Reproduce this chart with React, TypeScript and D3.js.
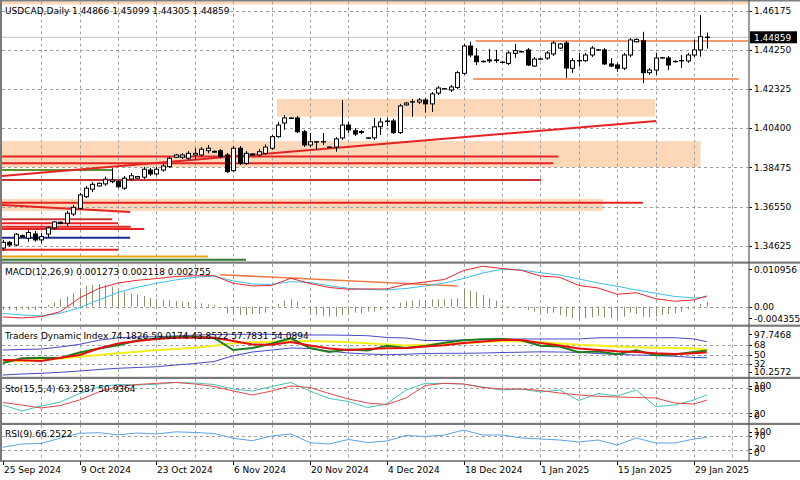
import React from "react";
import * as d3 from "d3";

// ---------- DATA ----------
const opens = [1.3451,1.3479,1.3466,1.3512,1.3499,1.352,1.3491,1.352,1.355,1.3578,1.3573,1.3618,1.3646,1.3703,1.374,1.3756,1.3766,1.3777,1.3777,1.3745,1.379,1.3794,1.3799,1.3834,1.3815,1.3834,1.3851,1.3897,1.3897,1.3892,1.3908,1.3908,1.3929,1.3926,1.3929,1.3908,1.3831,1.3941,1.3867,1.3908,1.3908,1.3916,1.3941,1.3998,1.4065,1.409,1.409,1.4022,1.3957,1.3973,1.3973,1.3947,1.3947,1.3992,1.4055,1.4027,1.4023,1.3992,1.3992,1.4047,1.4072,1.4075,1.4018,1.4154,1.4168,1.4168,1.4178,1.4159,1.4212,1.4232,1.4227,1.424,1.4309,1.4443,1.4394,1.4366,1.437,1.4372,1.4362,1.4358,1.4407,1.4415,1.4424,1.4345,1.4378,1.4384,1.4404,1.4433,1.4458,1.4334,1.4371,1.4371,1.4399,1.4424,1.4424,1.4355,1.435,1.4334,1.4399,1.4464,1.4469,1.4312,1.4325,1.4384,1.4384,1.4366,1.437,1.437,1.4399,1.4424,1.44866];
const highs = [1.3491,1.3486,1.3525,1.3518,1.354,1.3535,1.3525,1.3556,1.3584,1.3581,1.3633,1.3662,1.3721,1.3756,1.3775,1.3773,1.3802,1.3843,1.3785,1.3805,1.382,1.3805,1.3849,1.3844,1.3849,1.3864,1.3903,1.3913,1.3916,1.3927,1.3941,1.3947,1.3957,1.393,1.3937,1.3918,1.3952,1.3952,1.3927,1.3916,1.3937,1.396,1.4006,1.407,1.4104,1.4092,1.41,1.4031,1.4016,1.3976,1.4016,1.395,1.3996,1.4178,1.4071,1.404,1.403,1.3995,1.409,1.409,1.409,1.4085,1.4159,1.4168,1.4183,1.4188,1.4188,1.4217,1.4247,1.4237,1.4252,1.432,1.4453,1.4464,1.4433,1.4372,1.4428,1.4424,1.437,1.4419,1.4453,1.442,1.4433,1.4389,1.4384,1.4419,1.4468,1.4458,1.4468,1.4384,1.4409,1.4409,1.4443,1.4428,1.4433,1.4384,1.436,1.4409,1.4482,1.448,1.4513,1.4335,1.4409,1.439,1.4394,1.4372,1.4399,1.4409,1.4473,1.4595,1.45099];
const lows = [1.3437,1.3458,1.3461,1.3504,1.3482,1.3482,1.3474,1.35,1.354,1.3568,1.3559,1.3608,1.3638,1.3697,1.3726,1.3753,1.3756,1.3769,1.3746,1.3736,1.378,1.3792,1.379,1.3806,1.3806,1.3826,1.3844,1.3893,1.3889,1.3884,1.3884,1.3898,1.3916,1.392,1.3893,1.382,1.3825,1.3859,1.3859,1.3905,1.3898,1.3908,1.3933,1.3992,1.4031,1.4085,1.4016,1.3947,1.3947,1.3933,1.3957,1.3943,1.3924,1.3982,1.4016,1.4001,1.401,1.3987,1.3982,1.4006,1.405,1.4011,1.4011,1.415,1.4096,1.4159,1.4116,1.4119,1.4203,1.423,1.4217,1.4232,1.4301,1.4389,1.435,1.4362,1.436,1.436,1.4358,1.435,1.4384,1.4412,1.4345,1.434,1.4374,1.4375,1.4394,1.4428,1.4286,1.4311,1.4342,1.4365,1.4389,1.442,1.435,1.434,1.4317,1.4325,1.4389,1.446,1.426,1.4301,1.4301,1.438,1.4325,1.4362,1.4335,1.436,1.4389,1.4391,1.44305];
const closes = [1.3479,1.3466,1.3519,1.3508,1.3527,1.3491,1.3507,1.355,1.3579,1.3572,1.3622,1.3651,1.3712,1.3745,1.3764,1.3769,1.3789,1.3785,1.3752,1.3794,1.3806,1.3802,1.3838,1.3815,1.3838,1.3854,1.3892,1.3908,1.3908,1.3916,1.3916,1.3936,1.3941,1.3922,1.39,1.3826,1.3941,1.3867,1.3916,1.3913,1.3924,1.3947,1.3998,1.4055,1.409,1.4087,1.4022,1.3957,1.3973,1.3972,1.3974,1.3945,1.3987,1.4055,1.4031,1.4011,1.4019,1.399,1.4046,1.407,1.4075,1.4018,1.4149,1.4163,1.417,1.4178,1.4159,1.4208,1.4237,1.4234,1.4242,1.4312,1.4443,1.4399,1.4366,1.4368,1.4375,1.4375,1.4364,1.4409,1.442,1.4416,1.435,1.4379,1.438,1.4409,1.4458,1.4453,1.4335,1.4371,1.4372,1.4399,1.4433,1.4425,1.4355,1.4345,1.4334,1.4399,1.4473,1.4476,1.4312,1.4325,1.4384,1.4386,1.435,1.4368,1.4372,1.4399,1.4424,1.4489,1.44859];

const dateTickIdx = [0, 12, 24, 36, 48, 60, 72, 84, 96, 108];
const dateTickLabels = ["25 Sep 2024","9 Oct 2024","23 Oct 2024","6 Nov 2024","20 Nov 2024","4 Dec 2024","18 Dec 2024","1 Jan 2025","15 Jan 2025","29 Jan 2025"];
const priceTicks = [1.46175, 1.4425, 1.42325, 1.404, 1.38475, 1.3655, 1.34625];
const priceTickLabels = ["1.46175","1.44250","1.42325","1.40400","1.38475","1.36550","1.34625"];
const lastPrice = 1.44859;

// indicator samples (bar index)
const indIdx = [0,3,6,9,12,15,18,21,24,27,30,33,36,39,42,45,48,51,54,57,60,63,66,69,72,75,78,81,84,87,90,93,96,99,102,105,108,110];

const macdHist = [-0.00089,-0.00089,-0.00106,-0.00071,-0.00089,-0.00089,-0.00044,0.00044,0.00106,0.00195,0.00266,0.00355,0.00444,0.0055,0.00577,0.00603,0.00577,0.00532,0.00461,0.00399,0.00355,0.00319,0.00284,0.00231,0.00204,0.00186,0.00169,0.00151,0.00133,0.00124,0.00106,0.00089,0.00062,0.00044,0.00005,-0.00177,-0.00177,-0.00222,-0.00222,-0.00195,-0.00195,-0.0016,-0.00071,0.00071,0.0016,0.00195,0.00133,-0.00044,-0.0016,-0.00222,-0.00248,-0.00266,-0.00266,-0.00222,-0.00177,-0.0016,-0.00177,-0.00133,-0.00133,-0.00089,-0.00071,-0.00044,0.00106,0.00133,0.0016,0.00177,0.00177,0.00195,0.00195,0.00195,0.00204,0.00222,0.00461,0.00426,0.0039,0.0031,0.00222,0.0016,0.00044,0.00018,0.00005,-0.00018,-0.00089,-0.00133,-0.0016,-0.00177,-0.0016,-0.00222,-0.00266,-0.0031,-0.00337,-0.0031,-0.00284,-0.00248,-0.00284,-0.0031,-0.00337,-0.00266,-0.0016,-0.00195,-0.00266,-0.00284,-0.00266,-0.00222,-0.00195,-0.00177,-0.00133,-0.00071,0.00005,0.00071,0.001273];
const macdMain = [-0.00274,-0.00301,-0.00266,-0.00133,0.00231,0.00484,0.0063,0.00702,0.00747,0.00803,0.00822,0.00825,0.00622,0.00551,0.00564,0.00755,0.00617,0.00511,0.00463,0.00471,0.00471,0.00596,0.00657,0.00724,0.00963,0.01077,0.01016,0.00968,0.00817,0.00782,0.00564,0.00497,0.0033,0.0037,0.0021,0.00144,0.00178,0.00285];
const macdSignal = [-0.00181,-0.00221,-0.00247,-0.00176,-0.00027,0.00178,0.00378,0.00516,0.00622,0.0071,0.00782,0.00817,0.00684,0.00604,0.00591,0.00665,0.00644,0.00559,0.00489,0.00458,0.00444,0.00484,0.00551,0.0063,0.0075,0.00896,0.00995,0.00976,0.00904,0.00843,0.00737,0.0063,0.00543,0.00444,0.00356,0.00271,0.00231,0.00258];

const tdiUpper = [58.5,59.5,60.4,64.2,69.3,76.9,81.6,83.2,83.7,85,86.9,87.7,88.3,88.3,88.3,87.5,86.9,86.9,86.4,85.6,82.2,81.3,76.5,76.5,77.5,78.4,79.4,79.4,79.4,79.4,79.4,81.6,81.8,81.8,81.8,81.8,79.4,74.18];
const tdiLower = [11.2,13.1,14.4,16.3,18.8,21.6,23.9,25.4,26.9,30.1,33,36.7,47.7,54.7,58.5,62.3,61.4,56.6,52.8,51,49.6,50.6,51.9,52.3,52.3,52.8,53.8,54.4,55.1,54.7,54.1,51.9,50,49.1,48.1,46.6,44.3,43.85];
const tdiYellow = [36.7,37.7,39.6,42.4,45.8,49.1,52.3,55.1,58.5,60.4,62.9,66.5,71.2,73.3,74.3,75.2,75.6,74.6,73.1,71.2,68.9,67.1,68.4,69.9,71.2,73.7,75.6,74.6,73.1,70.8,68.4,67.1,65.2,63.6,62.9,62.3,61.4,59.02];
const tdiGreen = [33.9,42.8,43.9,43.4,53.8,61.4,67.4,76.5,80.3,83.5,83.7,81.6,58.5,62.3,70.8,80.7,62.3,54.7,59.5,57.6,66.7,62.3,66.1,72.2,76.9,78.8,79.4,76.9,66.7,65.2,54.2,55.7,50.4,58,48.5,50,54.7,57.78];
const tdiRed = [39.6,39,37.7,43.9,49.1,61.4,70.8,75.6,79.4,81.8,81.8,81.8,75.6,68.9,68.4,73.7,67.1,61.4,58.5,60.4,61.7,62.3,65.2,67.4,71.8,74.6,77.5,77.5,71.8,67.1,61.4,58.5,56.1,54.7,52.3,51,52.3,54.09];

const stoMain = [39.5,25.6,37.2,46.5,66.3,81.4,87.2,86,87.7,91.9,90.7,87.2,76.7,72.1,82.6,91.9,72.1,54.7,47.7,33.7,41.9,74.4,90,89.5,88.4,81.4,74.4,76.7,69.8,74.4,50,66.3,60.5,74.4,36,39.5,51.2,63.26];
const stoSignal = [45.3,39.5,32.6,38.4,51.2,69.8,82.1,87.2,90,91.9,88.4,82.6,72.1,62.8,72.1,83.7,80.2,66.3,53.5,44.2,40.7,55.8,84.9,90,88.4,80.2,76.7,76.7,73.3,67.4,62.8,59.8,58.1,57,55.8,44.2,41.9,50.94];
const rsiVals = [37.4,47.1,48.5,64.7,78.5,80.3,74.1,79.4,76.5,82.9,80.9,77.9,63.8,56.8,70.6,76.5,50.9,47.1,60.3,51.5,55.9,72.1,69.1,73.5,88.2,73.5,73.5,64.7,61.8,58.8,52.9,58.8,44.1,64.7,50,50,61.8,66.25];

// chart objects (price / bar-index anchors)
const zoneTop = [1.4183, 1.3976, 1.3692, 1.47];
const zoneBottom = [1.4096, 1.3848, 1.3633, 1.4647];
const zoneFrom = [42.85, -2, -2, -2];
const zoneTo = [101.9, 109, 93.8, 118];

const hlPrice = [1.39, 1.3867, 1.3785, 1.3674, 1.3592, 1.3573, 1.3556, 1.3545, 1.3502, 1.3442, 1.3409, 1.3393, 1.3834];
const hlTo = [86.8, 86.0, 84.1, 100.0, 17.1, 18.0, 20.0, 22.1, 19.9, 18.0, 32.1, 38.0, 17.1];
const hlKind = ["red","red","dark","red","dark","red","red","red","navy","red","gold","green","olive"];

const tlFromIdx = [-0.12, -0.12];
const tlFromPrice = [1.3805, 1.3662];
const tlToIdx = [102.1, 19.9];
const tlToPrice = [1.4075, 1.3628];

const boxLinePrice = [1.4468, 1.4281];
const boxLineFrom = [73.9, 73.5];
const boxLineTo = [118, 115];

const macdTlIdx = [33.9, 71];
const macdTlVal = [0.00851, 0.00551];

// ---------- STYLE ----------
const FONT = "DejaVu Sans";
const GRID = "#a0a0a0";
const kindColor: Record<string, string> = { red: "#e62222", dark: "#c83434", navy: "#1c2c8c", gold: "#e8a317", green: "#2e7d32", olive: "#5f8f2f" };

export default function App() {
  const x = d3.scaleLinear().domain([0, 110]).range([2.8, 706.8]);
  const px = (i: number) => Math.round(x(i)) + 0.5;
  const yMain = d3.scaleLinear().domain([1.34625, 1.46175]).range([245.7, 10.5]);
  const yMacd = d3.scaleLinear().domain([-0.004355, 0.010956]).range([323, 265.5]);
  const yTdi = d3.scaleLinear().domain([10.2572, 97.7468]).range([375.5, 329.3]);
  const ySto = d3.scaleLinear().domain([0, 100]).range([422, 379]);
  const yRsi = d3.scaleLinear().domain([0, 100]).range([460, 426]);

  const mk = (ys: d3.ScaleLinear<number, number>, vals: number[]) =>
    d3.line<number>().x((_, k) => x(indIdx[k])).y((v) => ys(v))(vals) || "";

  const gridIdx = d3.range(6, 115, 6);
  const R = 748.5;

  const vGrid = (y1: number, y2: number) =>
    gridIdx.map((i) => (
      <line key={"vg" + i + y1} x1={px(i)} x2={px(i)} y1={y1} y2={y2} stroke={GRID} strokeDasharray="3,3" strokeWidth={1} />
    ));
  const hGrid = (y: number, key: string) => (
    <line key={key} x1={2} x2={R} y1={Math.round(y) + 0.5} y2={Math.round(y) + 0.5} stroke={GRID} strokeDasharray="3,3" strokeWidth={1} />
  );

  const rLabel = (text: string, y: number, key: string) => (
    <g key={key}>
      <line x1={749} x2={752} y1={Math.round(y) + 0.5} y2={Math.round(y) + 0.5} stroke="#000" />
      <text x={754} y={y + 3.3} fontSize={9} fontFamily={FONT} fill="#000">{text}</text>
    </g>
  );

  return (
    <svg width={800} height={480} style={{ position: "absolute", left: 0, top: 0, background: "#fff" }}>
      <defs>
        <clipPath id="cMain"><rect x={2} y={1.5} width={R - 2} height={259.5} /></clipPath>
        <clipPath id="cMacd"><rect x={2} y={264} width={R - 2} height={60.5} /></clipPath>
        <clipPath id="cTdi"><rect x={2} y={326.5} width={R - 2} height={50} /></clipPath>
        <clipPath id="cSto"><rect x={2} y={378.5} width={R - 2} height={44.3} /></clipPath>
        <clipPath id="cRsi"><rect x={2} y={424.5} width={R - 2} height={35.8} /></clipPath>
      </defs>
      <rect x={0} y={0} width={800} height={480} fill="#fff" />

      {/* ---------- MAIN ---------- */}
      <g clipPath="url(#cMain)">
        {zoneTop.map((t, k) => (
          <rect key={"z" + k} x={x(zoneFrom[k])} y={yMain(t)} width={x(zoneTo[k]) - x(zoneFrom[k])} height={yMain(zoneBottom[k]) - yMain(t)} fill="#fcd8b8" />
        ))}
        {vGrid(1.5, 261)}
        {priceTicks.map((p, k) => hGrid(yMain(p), "hg" + k))}
        <line x1={2} x2={R} y1={yMain(lastPrice)} y2={yMain(lastPrice)} stroke="#c0c0c0" strokeWidth={1} />
        {hlPrice.map((p, k) => (
          <line key={"hl" + k} x1={x(-2)} x2={x(hlTo[k])} y1={yMain(p)} y2={yMain(p)} stroke={kindColor[hlKind[k]]} strokeWidth={2} />
        ))}
        {tlFromIdx.map((f, k) => (
          <line key={"tl" + k} x1={x(f)} x2={x(tlToIdx[k])} y1={yMain(tlFromPrice[k])} y2={yMain(tlToPrice[k])} stroke="#e62222" strokeWidth={2} />
        ))}
        {boxLinePrice.map((p, k) => (
          <line key={"bl" + k} x1={x(boxLineFrom[k])} x2={x(boxLineTo[k])} y1={yMain(p)} y2={yMain(p)} stroke="#f07a42" strokeWidth={1.6} />
        ))}
        {opens.map((o, i) => {
          const c = closes[i];
          const cx = px(i);
          const yT = yMain(Math.max(o, c));
          const yB = yMain(Math.min(o, c));
          const bull = c >= o;
          return (
            <g key={"c" + i}>
              <line x1={cx} x2={cx} y1={yMain(highs[i])} y2={yMain(lows[i])} stroke="#000" strokeWidth={1} />
              <rect x={cx - 2} y={yT} width={4} height={Math.max(yB - yT, 0.4)} fill={bull ? "#fff" : "#000"} stroke="#000" strokeWidth={1} />
            </g>
          );
        })}
      </g>
      <text x={5} y={14} fontSize={9} fontFamily={FONT} fill="#000">USDCAD,Daily 1.44866 1.45099 1.44305 1.44859</text>
      {priceTicks.map((p, k) => rLabel(priceTickLabels[k], yMain(p), "pl" + k))}
      <rect x={750} y={yMain(lastPrice) - 6} width={47} height={12} fill="#000" />
      <text x={754} y={yMain(lastPrice) + 3.3} fontSize={9} fontFamily={FONT} fill="#fff">1.44859</text>

      {/* ---------- MACD ---------- */}
      <g clipPath="url(#cMacd)">
        {vGrid(264, 324.5)}
        {hGrid(yMacd(0), "m0")}
        {macdHist.map((v, i) => (
          <line key={"h" + i} x1={px(i)} x2={px(i)} y1={yMacd(0)} y2={yMacd(v)} stroke="#8f8f70" strokeWidth={1} />
        ))}
        <line x1={x(macdTlIdx[0])} x2={x(macdTlIdx[1])} y1={yMacd(macdTlVal[0])} y2={yMacd(macdTlVal[1])} stroke="#f07a42" strokeWidth={1.6} />
        <path d={mk(yMacd, macdSignal)} fill="none" stroke="#3cbfe6" strokeWidth={1} />
        <path d={mk(yMacd, macdMain)} fill="none" stroke="#e8262e" strokeWidth={1} />
      </g>
      <text x={5} y={275.3} fontSize={9} fontFamily={FONT} fill="#000">MACD(12,26,9) 0.001273 0.002118 0.002755</text>
      {rLabel("0.010956", 269.3, "ml1")}
      {rLabel("0.00", yMacd(0), "ml2")}
      {rLabel("-0.004355", 318.3, "ml3")}

      {/* ---------- TDI ---------- */}
      <g clipPath="url(#cTdi)">
        {vGrid(326.5, 377)}
        {[68, 50, 32].map((v) => hGrid(yTdi(v), "t" + v))}
        <path d={mk(yTdi, tdiUpper)} fill="none" stroke="#4848c8" strokeWidth={1} />
        <path d={mk(yTdi, tdiLower)} fill="none" stroke="#4848c8" strokeWidth={1} />
        <path d={mk(yTdi, tdiYellow)} fill="none" stroke="#f2ef1c" strokeWidth={2} />
        <path d={mk(yTdi, tdiGreen)} fill="none" stroke="#1e7d1e" strokeWidth={2} />
        <path d={mk(yTdi, tdiRed)} fill="none" stroke="#e60f0f" strokeWidth={2} />
      </g>
      <text x={5} y={339.3} fontSize={9} fontFamily={FONT} fill="#000">Traders Dynamic Index 74.1826 59.0174 43.8522 57.7831 54.0894</text>
      {rLabel("97.7468", 334.3, "tl1")}
      {rLabel("68", yTdi(68), "tl2")}
      {rLabel("50", yTdi(50), "tl3")}
      {rLabel("32", yTdi(32), "tl4")}
      {rLabel("10.2572", 371.7, "tl5")}

      {/* ---------- STO ---------- */}
      <g clipPath="url(#cSto)">
        {vGrid(378.5, 423)}
        {[80, 20].map((v) => hGrid(ySto(v), "s" + v))}
        <path d={mk(ySto, stoMain)} fill="none" stroke="#48c0b8" strokeWidth={1} />
        <path d={mk(ySto, stoSignal)} fill="none" stroke="#e04848" strokeWidth={1} />
      </g>
      <text x={5} y={391.6} fontSize={9} fontFamily={FONT} fill="#000">Sto(15,5,4) 63.2587 50.9364</text>
      {rLabel("100", 386, "sl1")}
      {rLabel("80", 388.5, "sl2")}
      {rLabel("20", 413.3, "sl3")}
      {rLabel("0", 415.7, "sl4")}

      {/* ---------- RSI ---------- */}
      <g clipPath="url(#cRsi)">
        {vGrid(424.5, 460.5)}
        {[70, 30].map((v) => hGrid(yRsi(v), "r" + v))}
        <path d={mk(yRsi, rsiVals)} fill="none" stroke="#5aa2e8" strokeWidth={1} />
      </g>
      <text x={5} y={436.6} fontSize={9} fontFamily={FONT} fill="#000">RSI(9) 66.2522</text>
      {rLabel("100", 432, "rl1")}
      {rLabel("70", 435.5, "rl2")}
      {rLabel("30", 449, "rl3")}
      {rLabel("0", 452.8, "rl4")}

      {/* ---------- FRAMES ---------- */}
      <rect x={0} y={0} width={800} height={1.5} fill="#808080" />
      {[261.5, 324.6, 376.8, 422.8].map((y) => (
        <rect key={"sep" + y} x={0} y={y} width={800} height={2.2} fill="#7a7a7a" />
      ))}
      <rect x={0} y={460.3} width={800} height={1.4} fill="#5a5a5a" />
      <rect x={0} y={0} width={2} height={461.5} fill="#7a7a7a" />
      <line x1={749} x2={749} y1={0} y2={461.5} stroke="#5a5a5a" strokeWidth={1.2} />

      {/* ---------- DATE AXIS ---------- */}
      {dateTickIdx.map((i, k) => (
        <g key={"d" + k}>
          <line x1={px(i)} x2={px(i)} y1={461.5} y2={465} stroke="#000" />
          <text x={px(i) + 0.5} y={473.3} fontSize={9} fontFamily={FONT} fill="#000">{dateTickLabels[k]}</text>
        </g>
      ))}
    </svg>
  );
}
